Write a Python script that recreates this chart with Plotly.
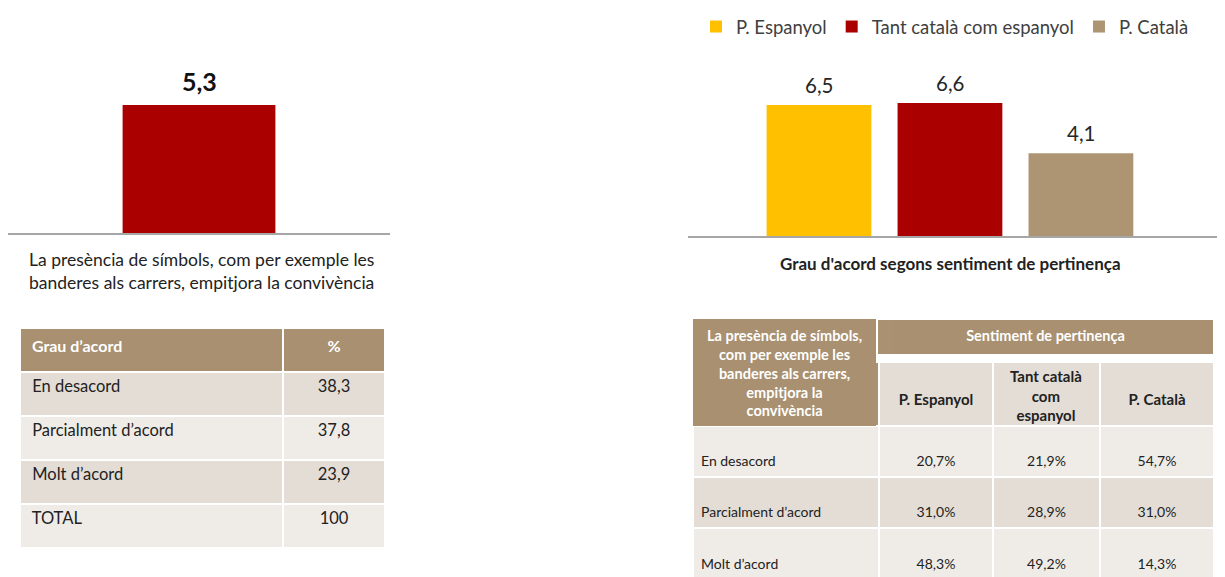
import plotly.graph_objects as go

# ---------------- data ----------------
left_category = ["La presència de símbols, com per exemple les banderes als carrers, empitjora la convivència"]
left_value = [5.3]

groups = ["P. Espanyol", "Tant català com espanyol", "P. Català"]
group_values = [6.5, 6.6, 4.1]

agree_levels = ["En desacord", "Parcialment d’acord", "Molt d’acord", "TOTAL"]
agree_pct = [38.3, 37.8, 23.9, 100]

cross_levels = ["En desacord", "Parcialment d’acord", "Molt d’acord"]
pct_espanyol = [20.7, 31.0, 48.3]
pct_tant = [21.9, 28.9, 49.2]
pct_catala = [54.7, 31.0, 14.3]

cross_title_lines = ["La presència de símbols,", "com per exemple les",
                     "banderes als carrers,", "empitjora la", "convivència"]
group_header_lines = [["", "P. Espanyol"], ["Tant català", "com", "espanyol"], ["", "P. Català"]]

# ---------------- style ----------------
# the page body has an 8px margin: size the figure so that it fills the window
OFF = 8
W, H = 1225 - OFF, 577 - OFF
FONT = "Lato, 'Open Sans', sans-serif"
YELLOW = "#FFC000"
RED = "#AA0000"
TAN_BAR = "#AD9573"
TAN = "#A89070"
ROW_D = "#E3DDD6"
ROW_L = "#EFECE8"
TXT = "#222222"
NB = "\u00a0"
group_colors = [YELLOW, RED, TAN_BAR]


def px_x(p):
    return max(0.0, min(1.0, (p - OFF) / W))


def px_y(p):
    return max(0.0, min(1.0, 1 - (p - OFF) / H))


def fmt(v, dec=1, suffix=""):
    return f"{v:.{dec}f}".replace(".", ",") + suffix


def bold_lines(lines):
    return "<br>".join(f"<b>{l}</b>" if l else NB for l in lines)


def two_line(s):
    # empty first line pushes the text towards the middle of the cell
    return NB + "<br>" + s


fig = go.Figure()

# ---------------- left bar chart ----------------
fig.add_trace(go.Bar(
    x=left_category, y=left_value, width=0.4,
    marker=dict(color=RED, line=dict(width=0)),
    showlegend=False, xaxis="x", yaxis="y", hoverinfo="skip",
))

# ---------------- right bar chart ----------------
for g, v, c in zip(groups, group_values, group_colors):
    fig.add_trace(go.Bar(
        x=[g], y=[v], name=g, width=0.8,
        marker=dict(color=c, line=dict(width=0)),
        xaxis="x2", yaxis="y2", hoverinfo="skip",
    ))

annotations = []
for cat, v in zip(left_category, left_value):
    annotations.append(dict(
        x=cat, y=v, xref="x", yref="y", text=f"<b>{fmt(v)}</b>",
        showarrow=False, yanchor="bottom", yshift=7,
        font=dict(family=FONT, size=25, color="#111111"),
    ))
for g, v in zip(groups, group_values):
    annotations.append(dict(
        x=g, y=v, xref="x2", yref="y2", text=fmt(v),
        showarrow=False, yanchor="bottom", yshift=6,
        font=dict(family=FONT, size=20.5, color="#262626"),
    ))

annotations.append(dict(
    x=px_x(201), y=px_y(271), xref="paper", yref="paper",
    text="La presència de símbols, com per exemple les<br>banderes als carrers, empitjora la convivència",
    showarrow=False, align="center", xanchor="center", yanchor="middle",
    font=dict(family=FONT, size=17.5, color=TXT),
))
annotations.append(dict(
    x=px_x(950), y=px_y(263), xref="paper", yref="paper",
    text="<b>Grau d'acord segons sentiment de pertinença</b>",
    showarrow=False, xanchor="center", yanchor="middle",
    font=dict(family=FONT, size=17, color=TXT),
))

# ---------------- left table ----------------
line_w = dict(color="white", width=2)
left_rows = [ROW_D if i % 2 == 0 else ROW_L for i in range(len(agree_levels))]
fig.add_trace(go.Table(
    domain=dict(x=[px_x(20), px_x(385)], y=[0, px_y(328)]),
    columnwidth=[263, 102],
    header=dict(
        values=[f"<b>{NB}Grau d’acord</b>", "<b>%</b>"],
        fill_color=TAN, line=line_w, height=44,
        align=["left", "center"],
        font=dict(family=FONT, size=16, color="white"),
    ),
    cells=dict(
        values=[[NB + a for a in agree_levels],
                [fmt(v, 0 if v == 100 else 1) for v in agree_pct]],
        fill_color=[left_rows, left_rows], line=line_w, height=44,
        align=["left", "center"],
        font=dict(family=FONT, size=16.5, color=TXT),
    ),
))

# ---------------- right table ----------------
right_rows = [ROW_L if i % 2 == 0 else ROW_D for i in range(len(cross_levels))]
multi = [len([l for l in g if l]) > 1 for g in group_header_lines]
fig.add_trace(go.Table(
    domain=dict(x=[px_x(693), px_x(1214)], y=[0, px_y(362)]),
    columnwidth=[186, 114, 107, 114],
    header=dict(
        values=[""] + ["" if m else bold_lines(g) for g, m in zip(group_header_lines, multi)],
        fill_color=[TAN, ROW_D, ROW_D, ROW_D], line=line_w, height=64,
        align="center",
        font=dict(family=FONT, size=15, color=TXT),
    ),
    cells=dict(
        values=[[two_line(c) for c in cross_levels],
                [two_line(fmt(v, 1, "%")) for v in pct_espanyol],
                [two_line(fmt(v, 1, "%")) for v in pct_tant],
                [two_line(fmt(v, 1, "%")) for v in pct_catala]],
        fill_color=[right_rows] * 4, line=line_w, height=50,
        align=["left", "center", "center", "center"],
        font=dict(family=FONT, size=14, color=TXT),
    ),
))
fig.add_trace(go.Table(
    domain=dict(x=[px_x(877), px_x(1214)], y=[0, px_y(319)]),
    header=dict(
        values=["<b>Sentiment de pertinença</b>"],
        fill_color=TAN, line=line_w, height=36, align="center",
        font=dict(family=FONT, size=14.5, color="white"),
    ),
    cells=dict(values=[[]]),
))
fig.add_trace(go.Table(
    domain=dict(x=[px_x(693), px_x(875)], y=[0, px_y(319)]),
    header=dict(
        values=[""],
        fill_color=TAN, line=dict(color=TAN, width=1), height=106,
        font=dict(family=FONT, size=14, color="white"),
    ),
    cells=dict(values=[[]]),
))

# multi-line header texts with each line centred
annotations.append(dict(
    x=px_x(784), y=px_y(373), xref="paper", yref="paper",
    text=bold_lines(cross_title_lines), align="center",
    showarrow=False, xanchor="center", yanchor="middle",
    font=dict(family=FONT, size=14.5, color="white"),
))
for g, m, cx in zip(group_header_lines, multi, [936, 1046, 1157]):
    if m:
        annotations.append(dict(
            x=px_x(cx), y=px_y(395), xref="paper", yref="paper",
            text=bold_lines(g), align="center",
            showarrow=False, xanchor="center", yanchor="middle",
            font=dict(family=FONT, size=15, color=TXT),
        ))

# ---------------- layout ----------------
axis_common = dict(showgrid=False, zeroline=False, showticklabels=False,
                   ticks="", showline=True, linecolor="#A6A6A6", linewidth=1.5,
                   fixedrange=True)
fig.update_layout(
    width=W, height=H,
    margin=dict(l=0, r=0, t=0, b=0),
    paper_bgcolor="white", plot_bgcolor="white",
    separators=",.",
    barmode="overlay",
    font=dict(family=FONT, color=TXT),
    xaxis=dict(domain=[px_x(8), px_x(390)], range=[-0.5, 0.5], anchor="y", **axis_common),
    yaxis=dict(domain=[px_y(233), px_y(60)], range=[0, 7.16], visible=False, anchor="x"),
    xaxis2=dict(domain=[px_x(688), 1.0], type="category", categoryorder="array",
                categoryarray=groups, range=[-1.0, 3.1], anchor="y2", **axis_common),
    yaxis2=dict(domain=[px_y(236), px_y(60)], range=[0, 8.73], visible=False, anchor="x2"),
    legend=dict(orientation="h", x=px_x(696), y=px_y(5), xanchor="left", yanchor="top",
                font=dict(family=FONT, size=18.5, color="#404040"),
                itemwidth=30, bgcolor="rgba(0,0,0,0)", traceorder="normal"),
    annotations=annotations,
)

fig.write_html("out.html")
